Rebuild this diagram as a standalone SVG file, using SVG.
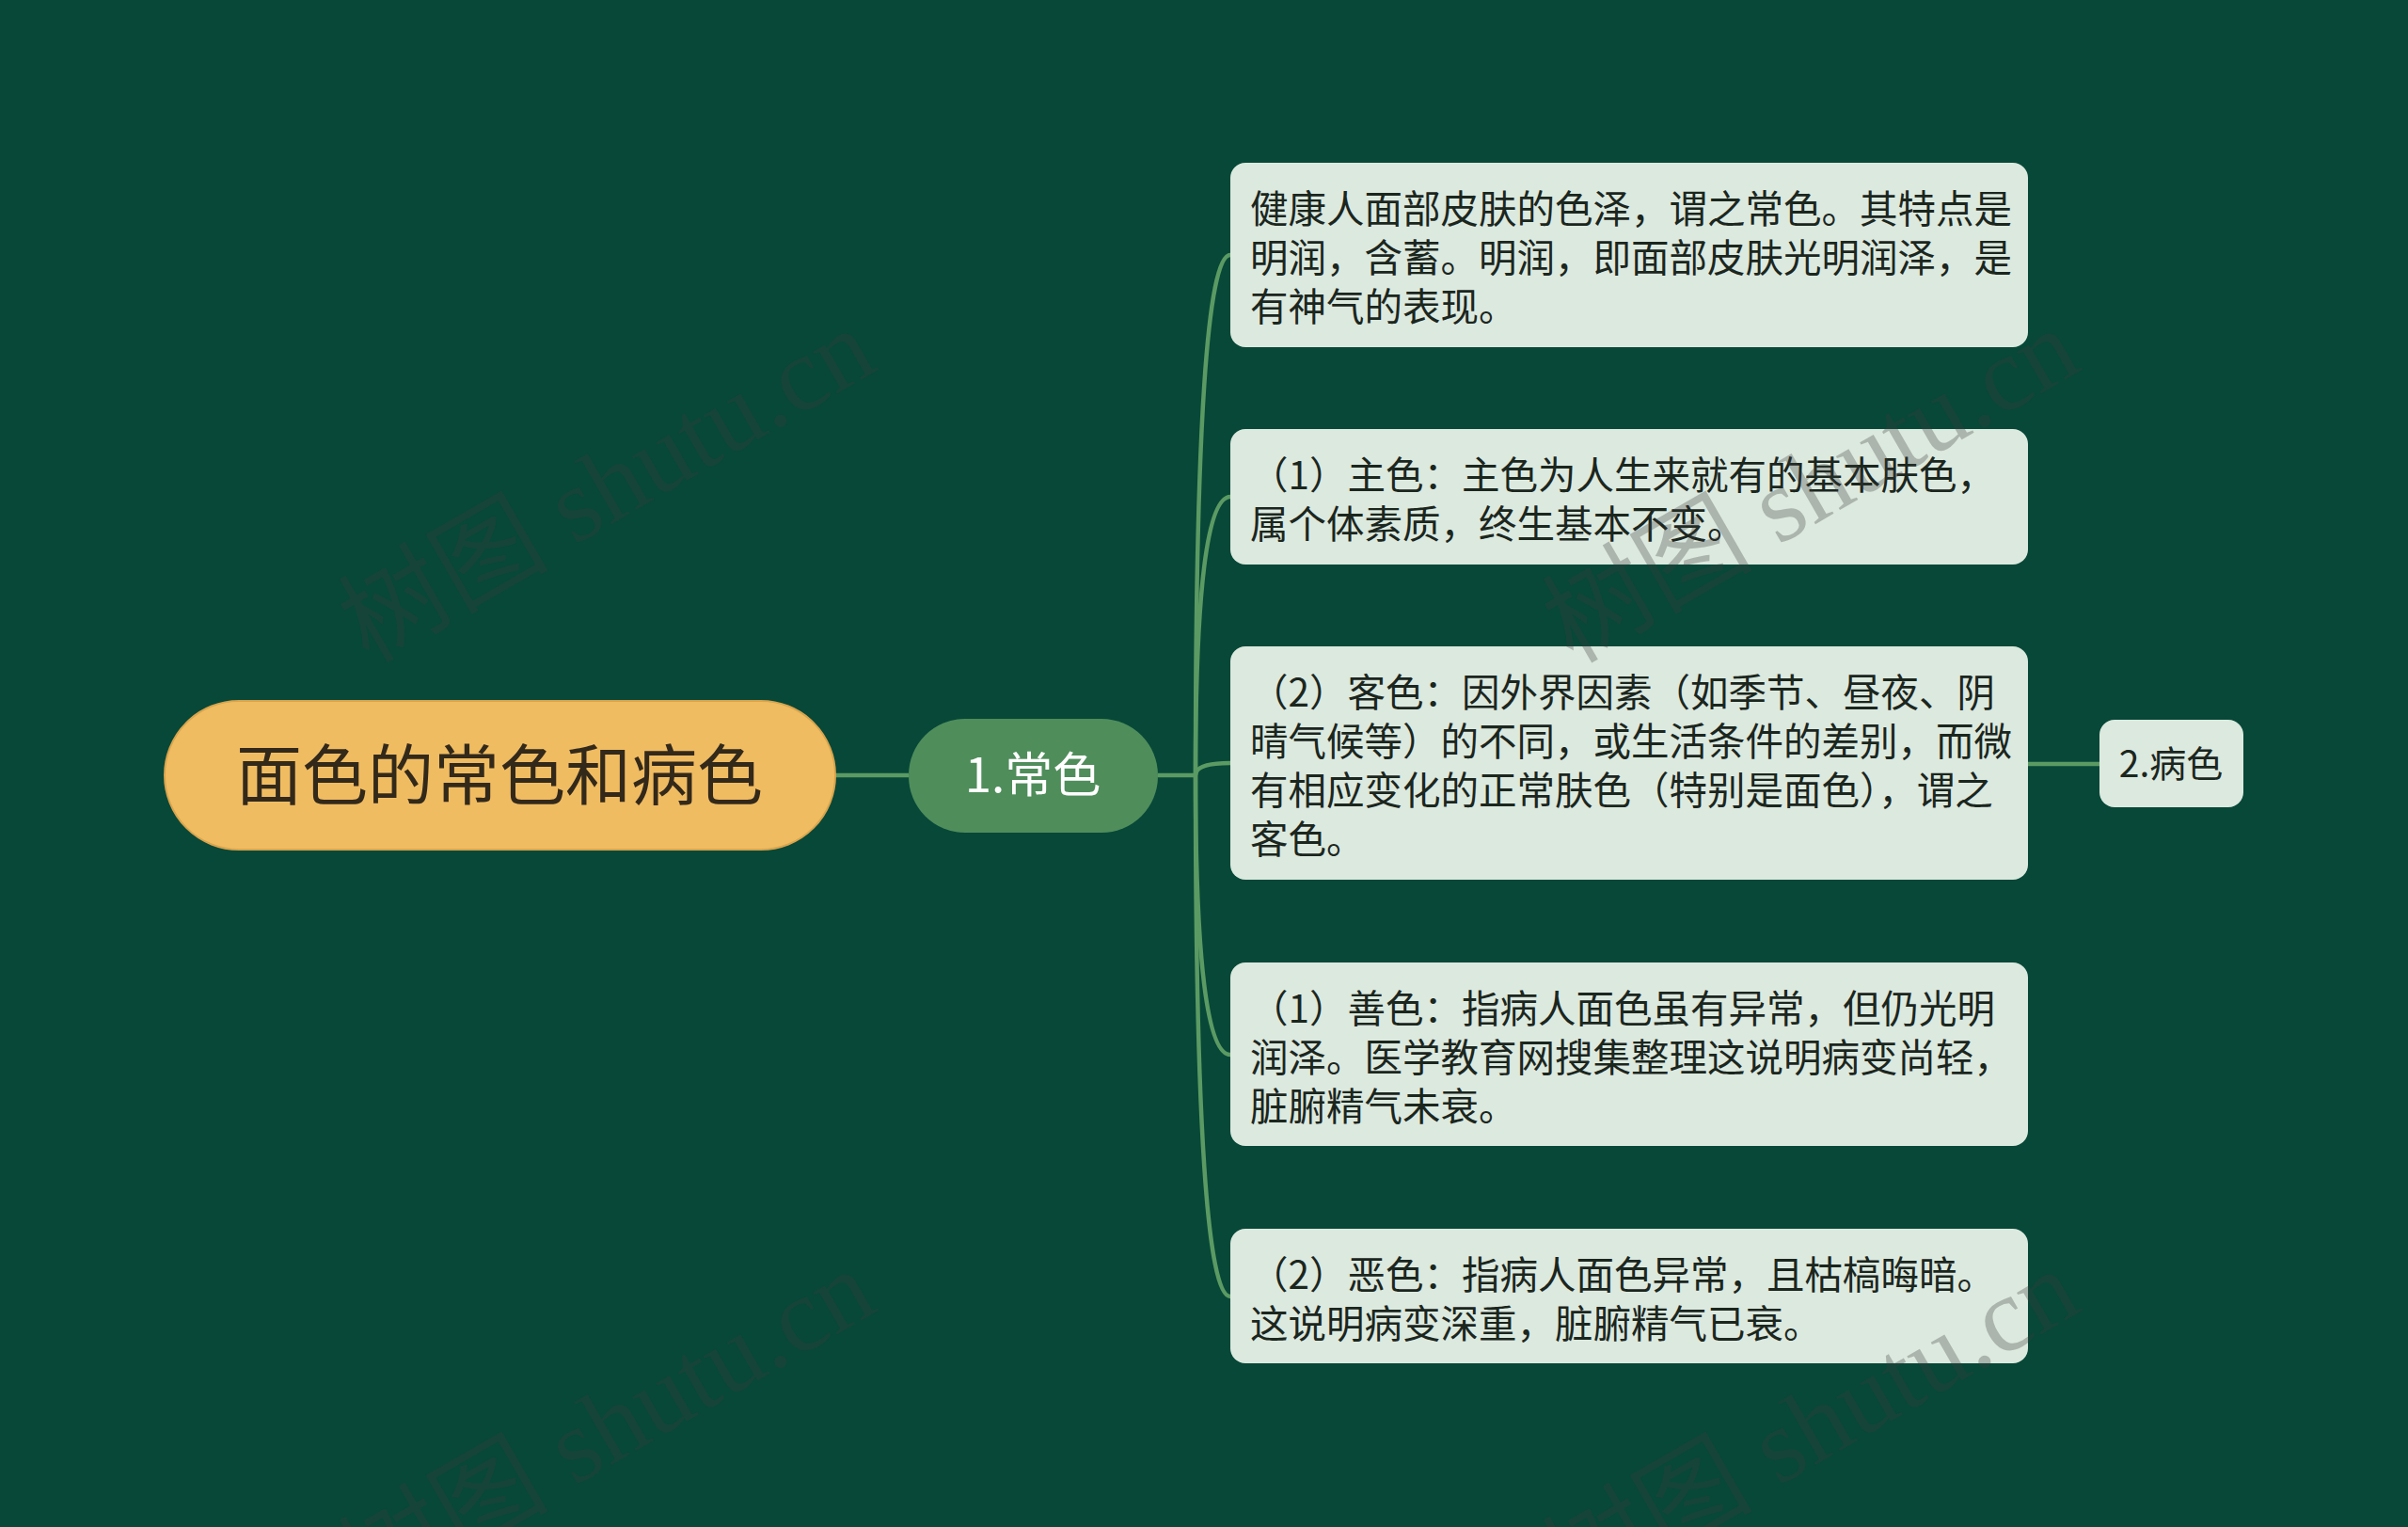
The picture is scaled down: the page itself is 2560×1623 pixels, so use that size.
<svg xmlns="http://www.w3.org/2000/svg" width="2560" height="1623" viewBox="0 0 2560 1623">
<style>
.cjk{font-family:"Noto Sans CJK SC","Noto Sans",sans-serif}
.box{fill:#dce9de}
.bt{font-size:40.5px;fill:#1b261e}
.con{fill:none;stroke:#5b9a63;stroke-width:4.5}
.wm{font-family:"Liberation Serif","Noto Sans CJK SC",serif;font-size:112px;fill:#3a3a3a;fill-opacity:0.3}
</style>
<rect x="0" y="0" width="2560" height="1623" fill="#074838"/>
<g id="connectors">
<line class="con" x1="888" y1="824" x2="966" y2="824" stroke-width="5"/>
<line class="con" x1="1231" y1="824" x2="1271" y2="824" stroke-width="5"/>
<path class="con" d="M1271,824 Q1271,271 1308,271"/>
<path class="con" d="M1271,824 Q1271,528 1308,528"/>
<path class="con" d="M1271,824 Q1271,811 1308,811"/>
<path class="con" d="M1271,824 Q1271,1121 1308,1121"/>
<path class="con" d="M1271,824 Q1271,1378 1308,1378"/>
<line class="con" x1="2156" y1="812" x2="2232" y2="812" stroke-width="5"/>
</g>
<g id="root">
<rect x="175" y="745" width="713" height="158" rx="79" fill="#f0bc62" stroke="#d9a44c" stroke-width="2"/>
<text class="cjk" x="531" y="850" text-anchor="middle" font-size="70" fill="#33291a">面色的常色和病色</text>
</g>
<g id="n-changse">
<rect x="966" y="764" width="265" height="121" rx="60" fill="#4f8d5b"/>
<text class="cjk" x="1098" y="842" text-anchor="middle" font-size="51" fill="#ffffff">1.常色</text>
</g>
<g id="c1">
<rect class="box" x="1308" y="173" width="848" height="196" rx="16"/>
<text class="cjk bt"><tspan x="1329" y="237">健康人面部皮肤的色泽，谓之常色。其特点是</tspan><tspan x="1329" y="289">明润，含蓄。明润，即面部皮肤光明润泽，是</tspan><tspan x="1329" y="341">有神气的表现。</tspan></text>
</g>
<g id="c2">
<rect class="box" x="1308" y="456" width="848" height="144" rx="16"/>
<text class="cjk bt"><tspan x="1329" y="520">（1）主色：主色为人生来就有的基本肤色，</tspan><tspan x="1329" y="572">属个体素质，终生基本不变。</tspan></text>
</g>
<g id="c3">
<rect class="box" x="1308" y="687" width="848" height="248" rx="16"/>
<text class="cjk bt"><tspan x="1329" y="751">（2）客色：因外界因素（如季节、昼夜、阴</tspan><tspan x="1329" y="803">晴气候等）的不同，或生活条件的差别，而微</tspan><tspan x="1329" y="855">有相应变化的正常肤色（特别是面色），谓之</tspan><tspan x="1329" y="907">客色。</tspan></text>
</g>
<g id="c4">
<rect class="box" x="1308" y="1023" width="848" height="195" rx="16"/>
<text class="cjk bt"><tspan x="1329" y="1087">（1）善色：指病人面色虽有异常，但仍光明</tspan><tspan x="1329" y="1139">润泽。医学教育网搜集整理这说明病变尚轻，</tspan><tspan x="1329" y="1191">脏腑精气未衰。</tspan></text>
</g>
<g id="c5">
<rect class="box" x="1308" y="1306" width="848" height="143" rx="16"/>
<text class="cjk bt"><tspan x="1329" y="1370">（2）恶色：指病人面色异常，且枯槁晦暗。</tspan><tspan x="1329" y="1422">这说明病变深重，脏腑精气已衰。</tspan></text>
</g>
<g id="n-bingse">
<rect class="box" x="2232" y="765" width="153" height="93" rx="16"/>
<text class="cjk" x="2308" y="826" text-anchor="middle" font-size="39" fill="#1b261e">2.病色</text>
</g>
<g id="watermarks">
<text class="wm" transform="translate(645,516) rotate(-30)" text-anchor="middle" y="38">树图 shutu.cn</text>
<text class="wm" transform="translate(1925,516) rotate(-30)" text-anchor="middle" y="38">树图 shutu.cn</text>
<text class="wm" transform="translate(645,1516) rotate(-30)" text-anchor="middle" y="38">树图 shutu.cn</text>
<text class="wm" transform="translate(1925,1516) rotate(-30)" text-anchor="middle" y="38">树图 shutu.cn</text>
</g>
</svg>
